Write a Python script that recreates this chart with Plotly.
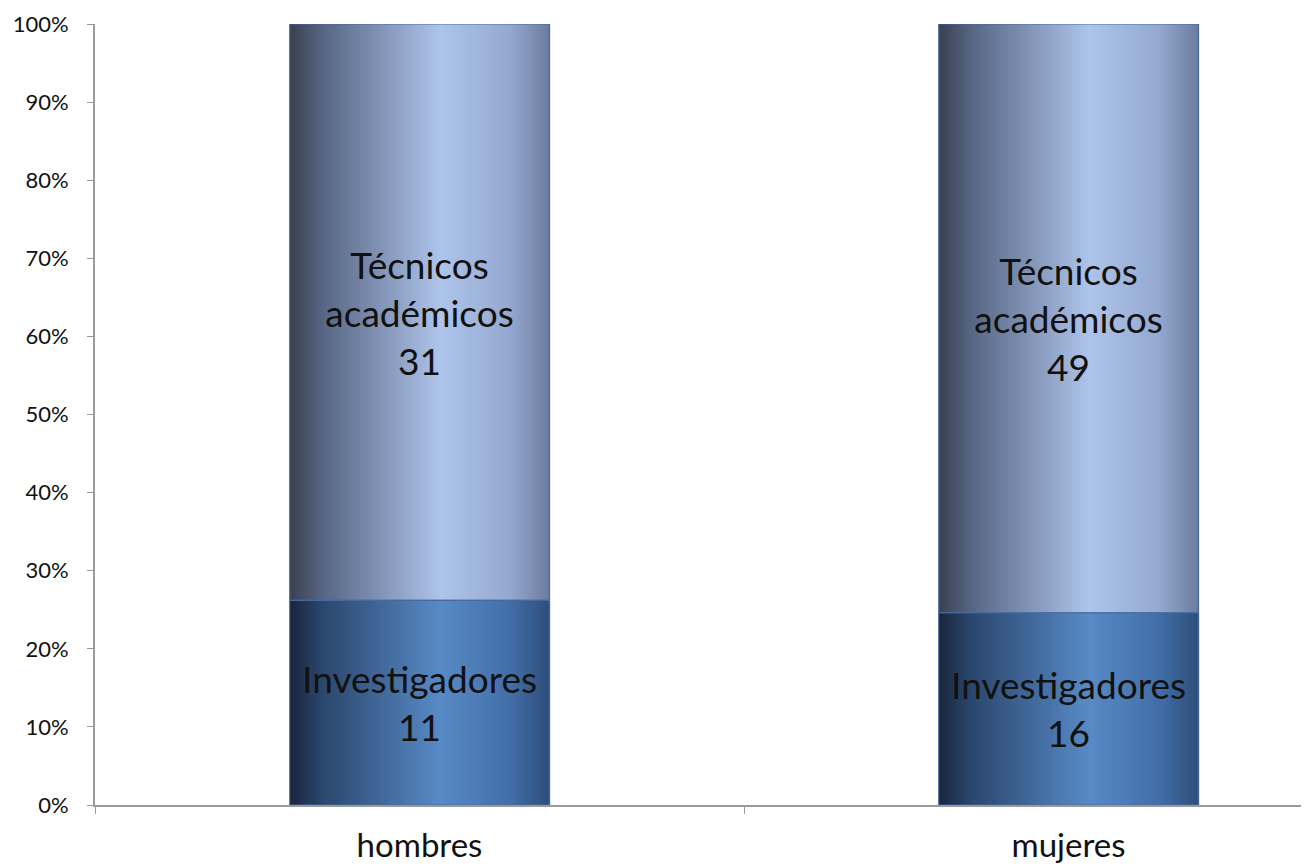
import plotly.graph_objects as go

categories = ["hombres", "mujeres"]
investigadores = [11, 16]
tecnicos = [31, 49]
series_names = ["Investigadores", "Técnicos<br>académicos"]
y_ticks = [0, 0.1, 0.2, 0.3, 0.4, 0.5, 0.6, 0.7, 0.8, 0.9, 1.0]

totals = [a + b for a, b in zip(investigadores, tecnicos)]
inv_share = [a / t for a, t in zip(investigadores, totals)]
tec_share = [b / t for b, t in zip(tecnicos, totals)]

BAR_W = 0.4
N = 90

def lerp(c1, c2, t):
    return tuple(c1[k] + (c2[k] - c1[k]) * t for k in range(3))

def grad(stops, t):
    for (p1, c1), (p2, c2) in zip(stops, stops[1:]):
        if p1 <= t <= p2:
            return lerp(c1, c2, (t - p1) / (p2 - p1) if p2 > p1 else 0)
    return stops[-1][1]

def rgb(c):
    return "rgb(%d,%d,%d)" % tuple(round(v) for v in c)

inv_stops = [(0.0, (26, 38, 60)), (0.12, (42, 70, 108)), (0.58, (88, 138, 198)), (0.85, (66, 110, 168)), (1.0, (46, 78, 120))]
tec_stops = [(0.0, (58, 64, 80)), (0.12, (86, 100, 130)), (0.58, (174, 196, 234)), (0.85, (148, 168, 208)), (1.0, (108, 124, 156))]

FONT = "Lato, Open Sans, sans-serif"

fig = go.Figure()

def gradient_trace(shares, bases, stops):
    xs, ys, bs, offs, cols = [], [], [], [], []
    for ci, cat in enumerate(categories):
        for i in range(N):
            t = (i + 0.5) / N
            xs.append(cat)
            ys.append(shares[ci])
            bs.append(bases[ci])
            offs.append(-BAR_W / 2 + i * BAR_W / N)
            cols.append(rgb(grad(stops, t)))
    return go.Bar(x=xs, y=ys, base=bs, offset=offs, width=BAR_W / N * 1.3,
                  marker=dict(color=cols, line=dict(width=0)),
                  hoverinfo="skip", showlegend=False)

fig.add_trace(gradient_trace(inv_share, [0, 0], inv_stops))
fig.add_trace(gradient_trace(tec_share, inv_share, tec_stops))

def label_trace(shares, bases, texts):
    return go.Bar(
        x=categories, y=shares, base=bases, width=BAR_W,
        marker=dict(color="rgba(0,0,0,0)", line=dict(width=1.2, color="rgba(70,105,160,0.9)")),
        text=texts, textposition="inside", insidetextanchor="middle", textangle=0,
        textfont=dict(family=FONT, size=37, color="#111111"),
        constraintext="none", cliponaxis=False, showlegend=False, hoverinfo="skip")

fig.add_trace(label_trace(inv_share, [0, 0], [f"{series_names[0]}<br>{v}" for v in investigadores]))
fig.add_trace(label_trace(tec_share, inv_share, [f"{series_names[1]}<br>{v}" for v in tecnicos]))

# page body has an 8px default margin; compensate so the plot lands where the reference has it
W, H = 1301, 856
plot_left, plot_top, plot_h = 95 - 8, 24 - 8, 781
cat_px = 649
x_end = -0.5 + (W - plot_left) / cat_px

fig.update_layout(
    width=W, height=H,
    margin=dict(l=plot_left, r=0, t=plot_top, b=H - plot_top - plot_h),
    paper_bgcolor="white", plot_bgcolor="white",
    barmode="overlay",
    font=dict(family=FONT, color="#111111"),
)
fig.update_xaxes(
    type="category", range=[-0.5, x_end], automargin=False,
    showline=True, linecolor="#9a9a9a", linewidth=2,
    ticks="outside", tickson="boundaries", ticklen=7, tickcolor="#9a9a9a", tickwidth=1,
    tickfont=dict(size=33, color="#111111"), showgrid=False, zeroline=False,
    ticklabelstandoff=10,
)
fig.update_yaxes(
    range=[0, 1], tickvals=y_ticks, tickformat=".0%", automargin=False,
    showline=True, linecolor="#9a9a9a", linewidth=2,
    ticks="outside", ticklen=6, tickcolor="#9a9a9a", tickwidth=1,
    tickfont=dict(size=22, color="#111111"), showgrid=False, zeroline=False,
    ticklabelstandoff=14,
)

fig.write_html("out.html")
